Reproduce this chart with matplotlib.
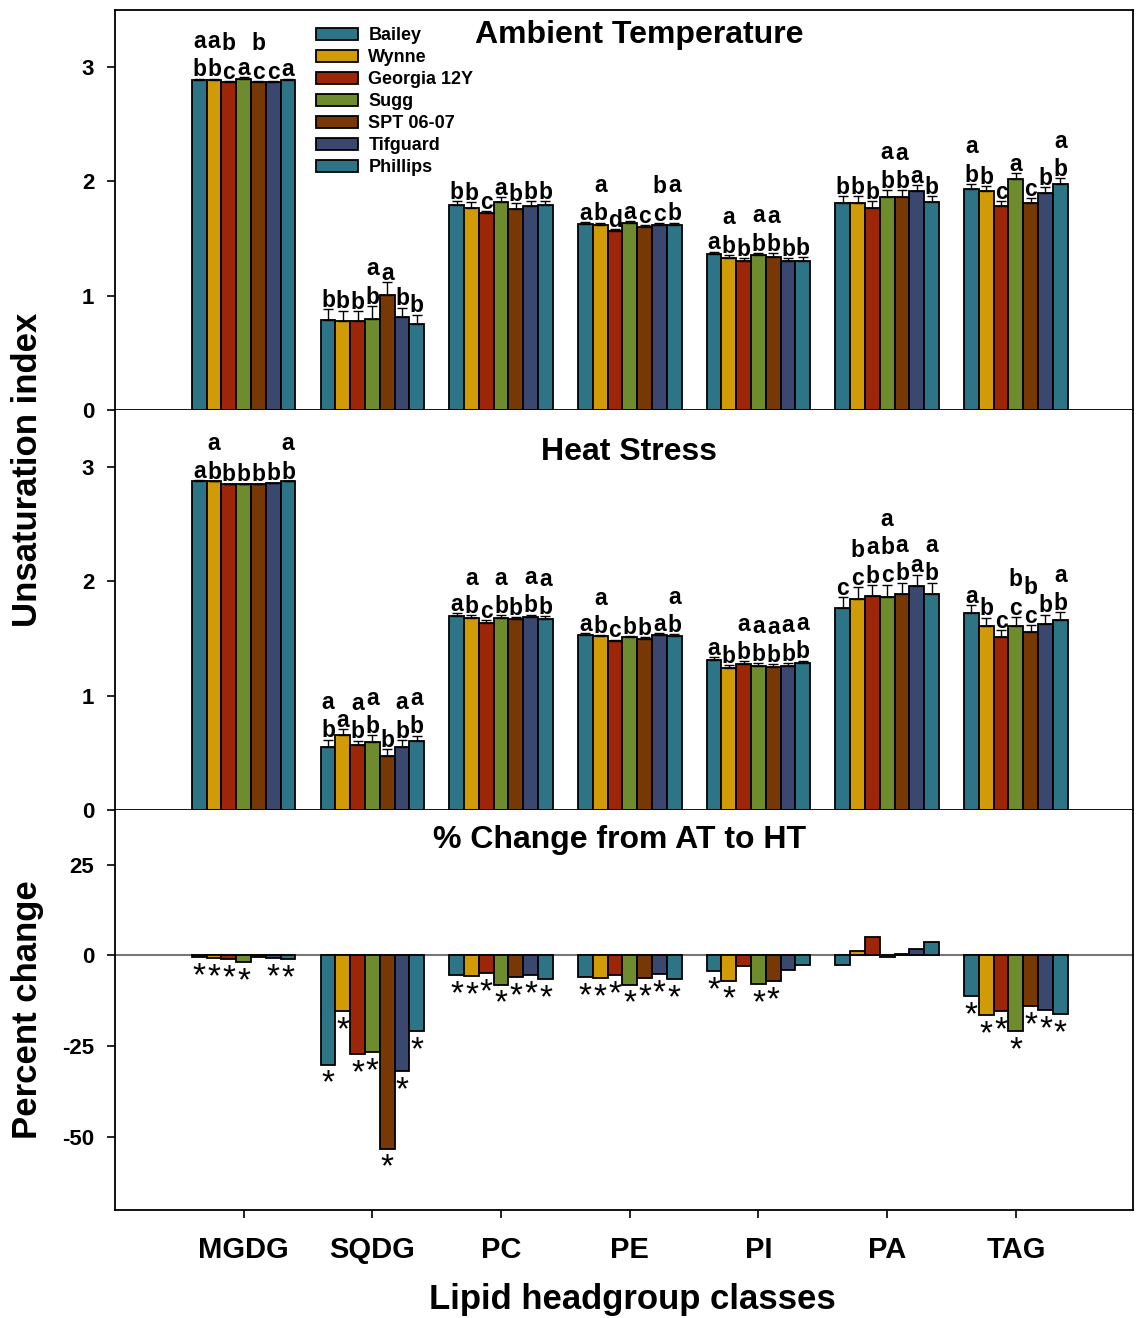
import numpy as np
import matplotlib.pyplot as plt
from matplotlib.patches import Patch

plt.rcParams['font.family'] = ['Liberation Sans', 'DejaVu Sans']
plt.rcParams['font.weight'] = 'bold'

classes = ['MGDG', 'SQDG', 'PC', 'PE', 'PI', 'PA', 'TAG']
cultivars = ['Bailey', 'Wynne', 'Georgia 12Y', 'Sugg', 'SPT 06-07', 'Tifguard', 'Phillips']
colors = ['#2E7487', '#D09B07', '#9E2608', '#6E8C2D', '#783806', '#3A4870', '#2E7487']

# ambient temperature (rows = classes, cols = cultivars)
at_mean = [[2.89, 2.89, 2.87, 2.90, 2.87, 2.87, 2.89],
           [0.79, 0.78, 0.776, 0.80, 1.01, 0.81, 0.755],
           [1.79, 1.77, 1.72, 1.82, 1.76, 1.785, 1.79],
           [1.625, 1.62, 1.563, 1.633, 1.60, 1.615, 1.62],
           [1.365, 1.333, 1.306, 1.356, 1.34, 1.30, 1.306],
           [1.81, 1.814, 1.77, 1.864, 1.867, 1.913, 1.82],
           [1.934, 1.916, 1.785, 2.02, 1.81, 1.90, 1.977]]
at_err = [[0.01, 0.01, 0.01, 0.01, 0.01, 0.01, 0.01],
          [0.09, 0.09, 0.09, 0.11, 0.11, 0.085, 0.08],
          [0.04, 0.05, 0.02, 0.04, 0.05, 0.04, 0.04],
          [0.02, 0.02, 0.02, 0.02, 0.02, 0.02, 0.02],
          [0.02, 0.025, 0.025, 0.02, 0.03, 0.03, 0.03],
          [0.06, 0.06, 0.06, 0.06, 0.055, 0.055, 0.05],
          [0.045, 0.04, 0.045, 0.05, 0.045, 0.05, 0.05]]
at_letters = [['ab', 'ab', 'bc', 'a', 'bc', 'c', 'a'],
              ['b', 'b', 'b', 'ab', 'a', 'b', 'b'],
              ['b', 'b', 'c', 'a', 'b', 'b', 'b'],
              ['a', 'ab', 'd', 'a', 'c', 'bc', 'ab'],
              ['a', 'ab', 'b', 'ab', 'ab', 'b', 'b'],
              ['b', 'b', 'b', 'ab', 'ab', 'a', 'b'],
              ['ab', 'b', 'c', 'a', 'c', 'b', 'ab']]

# heat stress
ht_mean = [[2.88, 2.875, 2.85, 2.85, 2.85, 2.86, 2.875],
           [0.555, 0.66, 0.567, 0.594, 0.474, 0.553, 0.60],
           [1.70, 1.684, 1.64, 1.684, 1.667, 1.69, 1.675],
           [1.535, 1.52, 1.48, 1.51, 1.50, 1.535, 1.526],
           [1.31, 1.243, 1.275, 1.257, 1.25, 1.263, 1.283],
           [1.766, 1.848, 1.871, 1.862, 1.889, 1.959, 1.889],
           [1.725, 1.614, 1.515, 1.608, 1.561, 1.625, 1.66]]
ht_err = [[0.005, 0.005, 0.005, 0.005, 0.005, 0.005, 0.005],
          [0.06, 0.05, 0.04, 0.06, 0.06, 0.06, 0.05],
          [0.02, 0.02, 0.02, 0.02, 0.02, 0.02, 0.02],
          [0.01, 0.01, 0.01, 0.01, 0.01, 0.01, 0.01],
          [0.025, 0.025, 0.025, 0.025, 0.025, 0.025, 0.025],
          [0.1, 0.1, 0.1, 0.11, 0.1, 0.1, 0.1],
          [0.065, 0.07, 0.06, 0.08, 0.06, 0.085, 0.07]]
ht_letters = [['a', 'ab', 'b', 'b', 'b', 'b', 'ab'],
              ['ab', 'a', 'ab', 'ab', 'b', 'ab', 'ab'],
              ['a', 'ab', 'c', 'ab', 'b', 'ab', 'ab'],
              ['a', 'ab', 'c', 'b', 'b', 'a', 'ab'],
              ['a', 'b', 'ab', 'ab', 'ab', 'ab', 'ab'],
              ['c', 'bc', 'ab', 'abc', 'ab', 'a', 'ab'],
              ['a', 'b', 'c', 'bc', 'bc', 'b', 'ab']]

# percent change AT -> HT, and significance
pct_change = [[-0.5, -0.6, -0.9, -1.7, -0.5, -0.6, -0.9],
              [-30.0, -15.4, -27.0, -26.6, -53.1, -31.8, -20.8],
              [-5.5, -5.6, -4.9, -8.0, -6.0, -5.3, -6.6],
              [-6.0, -6.2, -5.5, -8.0, -6.1, -5.0, -6.4],
              [-4.3, -6.9, -3.0, -7.9, -7.0, -3.9, -2.5],
              [-2.7, 1.2, 5.2, -0.3, 0.5, 1.9, 3.6],
              [-11.2, -16.4, -15.3, -20.8, -14.0, -14.9, -16.2]]
pct_sig = [[1, 1, 1, 1, 0, 1, 1],
           [1, 1, 1, 1, 1, 1, 1],
           [1, 1, 1, 1, 1, 1, 1],
           [1, 1, 1, 1, 1, 1, 1],
           [1, 1, 0, 1, 1, 0, 0],
           [0, 0, 0, 0, 0, 0, 0],
           [1, 1, 1, 1, 1, 1, 1]]

x = np.arange(1, len(classes) + 1)
w = 0.115
offs = (np.arange(len(cultivars)) - 3) * w

fig = plt.figure(figsize=(11.36, 13.18), dpi=100)
left, width = 115/1136, 1018/1136
ax1 = fig.add_axes([left, 1-410/1318, width, 400/1318])
ax2 = fig.add_axes([left, 1-810/1318, width, 400/1318])
ax3 = fig.add_axes([left, 1-1210/1318, width, 400/1318])

def style_axis(ax):
    for s in ax.spines.values():
        s.set_linewidth(1.3)
    ax.set_xlim(0, 7.91)
    ax.set_xticks(x)
    ax.tick_params(axis='both', direction='out', length=6, width=1.2, labelsize=16, pad=9)
    ax.tick_params(axis='x', labelbottom=False)

def bar_panel(ax, mean, err, letters, title, tx, ty):
    mean = np.array(mean)
    err = np.array(err)
    for j, c in enumerate(cultivars):
        xp = x + offs[j]
        ax.bar(xp, mean[:, j], w, color=colors[j], edgecolor='black', linewidth=1.3, zorder=2)
        ax.errorbar(xp, mean[:, j], yerr=[np.zeros(len(x)), err[:, j]], fmt='none',
                    ecolor='black', elinewidth=1.0, capsize=3.5, capthick=1.0, zorder=3)
        for i in range(len(classes)):
            ax.annotate('\n'.join(letters[i][j]), (xp[i], mean[i, j] + err[i, j]),
                        xytext=(0, -2), textcoords='offset points', ha='center',
                        va='bottom', fontsize=16.5, fontweight='bold', linespacing=1.3, zorder=4)
    ax.set_ylim(0, 3.5)
    ax.set_yticks([0, 1, 2, 3])
    style_axis(ax)
    ax.text(tx, ty, title, transform=ax.transAxes, ha='center', va='center',
            fontsize=23, fontweight='bold')

bar_panel(ax1, at_mean, at_err, at_letters, 'Ambient Temperature', 0.515, 0.937)
bar_panel(ax2, ht_mean, ht_err, ht_letters, 'Heat Stress', 0.505, 0.895)
ax2.spines['top'].set_visible(False)

# percent change panel
pc = np.array(pct_change)
for j, c in enumerate(cultivars):
    xp = x + offs[j]
    ax3.bar(xp, pc[:, j], w, color=colors[j], edgecolor='black', linewidth=1.3, zorder=2)
    for i in range(len(classes)):
        if pct_sig[i][j]:
            ax3.annotate('*', (xp[i], min(pc[i, j], 0)), xytext=(0, -3), textcoords='offset points',
                         ha='center', va='top', fontsize=24, fontweight='normal', zorder=4)
ax3.axhline(0, color='#777777', linewidth=1.5, zorder=1)
ax3.set_ylim(-70, 40)
ax3.set_yticks([25, 0, -25, -50])
ax3.set_yticklabels(['25', '0', '-25', '-50'])
style_axis(ax3)
ax3.spines['top'].set_visible(False)
ax3.tick_params(axis='x', labelbottom=True, labelsize=21, pad=13)
ax3.set_xticklabels(classes)
ax3.text(0.496, 0.925, '% Change from AT to HT', transform=ax3.transAxes, ha='center',
         va='center', fontsize=23, fontweight='bold')

fig.text(632/1136, 1-1300/1318, 'Lipid headgroup classes', ha='center', va='center',
         fontsize=25, fontweight='bold')
fig.text(28/1136, 1-470/1318, 'Unsaturation index', ha='center', va='center',
         rotation=90, fontsize=25, fontweight='bold')
fig.text(28/1136, 1-1010/1318, 'Percent change', ha='center', va='center',
         rotation=90, fontsize=25, fontweight='bold')

handles = [Patch(facecolor=colors[j], edgecolor='black', linewidth=1.3) for j in range(len(cultivars))]
ax1.legend(handles, cultivars, loc='upper left', bbox_to_anchor=(316/1136, 1-27/1318),
           bbox_transform=fig.transFigure, frameon=False, prop={'size': 13, 'weight': 'bold'},
           handlelength=2.3, handleheight=0.65, labelspacing=0.28, handletextpad=0.6,
           borderpad=0, borderaxespad=0)

fig.savefig('out.png', dpi=100)
